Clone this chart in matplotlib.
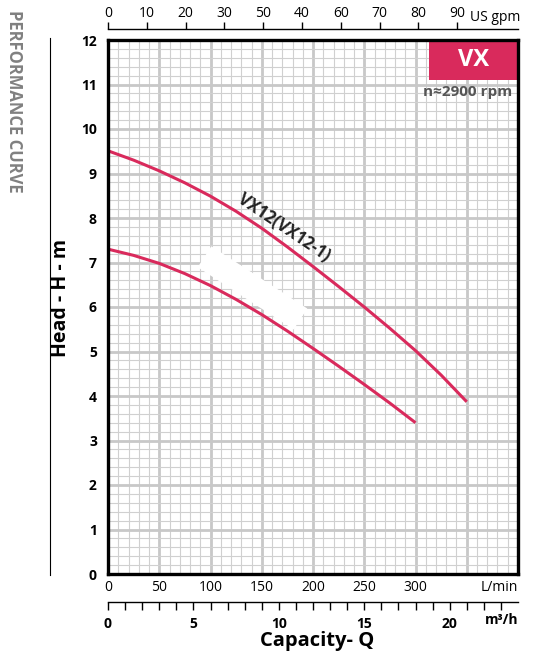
import numpy as np
import matplotlib
matplotlib.use("Agg")
from matplotlib import pyplot as plt
from matplotlib.patches import Rectangle

plt.rcParams["font.family"] = ["Open Sans", "DejaVu Sans"]

# flow in L/min, head in m
q_upper = [0, 25, 50, 75, 100, 125, 150, 175, 200, 225, 250, 275, 300, 325, 350]
h_upper = [9.51, 9.30, 9.06, 8.79, 8.49, 8.15, 7.77, 7.35, 6.91, 6.46, 6.00, 5.52, 5.02, 4.47, 3.87]
q_lower = [0, 25, 50, 75, 100, 125, 150, 175, 200, 225, 250, 275, 300]
h_lower = [7.30, 7.16, 6.98, 6.75, 6.48, 6.17, 5.83, 5.46, 5.07, 4.67, 4.26, 3.84, 3.40]

curve_label = "VX12(VX12-1)"
lmin_ticks = [0, 50, 100, 150, 200, 250, 300, 350, 400]
lmin_labels = ["0", "50", "100", "150", "200", "250", "300", "", ""]
gpm_ticks = [0, 10, 20, 30, 40, 50, 60, 70, 80, 90]
gpm_labels = ["0", "10", "20", "30", "50", "40", "60", "70", "80", "90"]  # as printed on the chart
m3h_ticks = list(range(0, 24))
head_ticks = list(range(0, 13))

red = "#d92a5c"

fig = plt.figure(figsize=(5.35, 6.64), dpi=100)
ax = fig.add_axes([108/535, 90/664, 410/535, 534/664])

ax.plot(q_upper, h_upper, color=red, lw=2.2, zorder=3, solid_capstyle="butt", solid_joinstyle="round")
ax.plot(q_lower, h_lower, color=red, lw=2.2, zorder=3, solid_capstyle="butt", solid_joinstyle="round")

ax.set_xlim(0, 400)
ax.set_ylim(0, 12)
ax.set_xticks(lmin_ticks)
ax.set_xticklabels(lmin_labels)
ax.set_xticks(np.arange(0, 401, 10), minor=True)
ax.set_yticks(head_ticks)
ax.set_yticks(np.arange(0, 12.01, 0.2), minor=True)
ax.grid(which="major", color="#c8c8c8", lw=2.0, zorder=1)
ax.grid(which="minor", color="#d0d0d0", lw=0.8, zorder=0)
ax.set_axisbelow(True)
ax.tick_params(which="both", length=0)
ax.tick_params(axis="x", labelsize=10, pad=4)
ax.tick_params(axis="y", labelsize=10, pad=8)
for t in ax.get_yticklabels():
    t.set_fontweight("bold")
for s in ax.spines.values():
    s.set_linewidth(2.4)
    s.set_zorder(5)

ax.text(1.0, -0.012, "L/min", transform=ax.transAxes, ha="right", va="top", fontsize=10)

# top US gpm scale
top = ax.secondary_xaxis(1 + 11/534, functions=(lambda q: q/3.785, lambda g: g*3.785))
top.set_xticks(gpm_ticks)
top.set_xticklabels(gpm_labels)
top.tick_params(direction="out", length=5, width=1, labelsize=10, pad=1)
top.spines["top"].set_linewidth(1)
ax.text(362/410, 1 + 11/534 + 0.0075, "US gpm", transform=ax.transAxes, ha="left", va="bottom", fontsize=10)

# bottom m3/h scale
bot = ax.secondary_xaxis(-28/534, functions=(lambda q: q*0.06, lambda m: m/0.06))
bot.set_xticks(m3h_ticks)
bot.set_xticklabels([str(m) if m % 5 == 0 else "" for m in m3h_ticks])
bot.tick_params(direction="out", length=6, width=1, labelsize=10, pad=5)
for t in bot.get_xticklabels():
    t.set_fontweight("bold")
bot.spines["bottom"].set_linewidth(1)
ax.text(1.0, -28/534 - 0.02, "m³/h", transform=ax.transAxes, ha="right", va="top",
        fontsize=10, fontweight="bold")

fig.text(317/535, 1 - 641/664, "Capacity- Q", ha="center", va="center", fontsize=14.5, fontweight="bold")
fig.text(61/535, 1 - 298/664, "Head - H - m", ha="center", va="center", rotation=90,
         fontsize=14, fontweight="bold")
fig.text(14/535, 1 - 101/664, "PERFORMANCE CURVE", ha="center", va="center", rotation=270,
         fontsize=12, fontweight="bold", color="#808080")
fig.add_artist(plt.Line2D([50/535, 50/535], [1 - 38/664, 1 - 575/664], color="black", lw=0.8))

# curve label and the blanked-out label under it
ax.text(172, 7.8, curve_label, rotation=-34, ha="center", va="center", fontsize=12,
        fontweight="bold", color="#222222", zorder=4)
ax.text(141, 6.43, curve_label, rotation=-33, ha="center", va="center", fontsize=12,
        fontweight="bold", color="white", zorder=2,
        bbox=dict(fc="white", ec="none", pad=2.5))

# VX badge
ax.add_patch(Rectangle((321/410, 1 - 40/534), 89/410, 40/534, transform=ax.transAxes,
                       fc=red, ec="none", zorder=4))
ax.text(366/410, 1 - 20/534, "VX", transform=ax.transAxes, ha="center", va="center",
        fontsize=17, fontweight="bold", color="white", zorder=5)
ax.text(404/410, 1 - 52/534, "n≈2900 rpm", transform=ax.transAxes, ha="right", va="center",
        fontsize=11, fontweight="bold", color="#555555", zorder=5)

fig.savefig("out.png", dpi=100)
